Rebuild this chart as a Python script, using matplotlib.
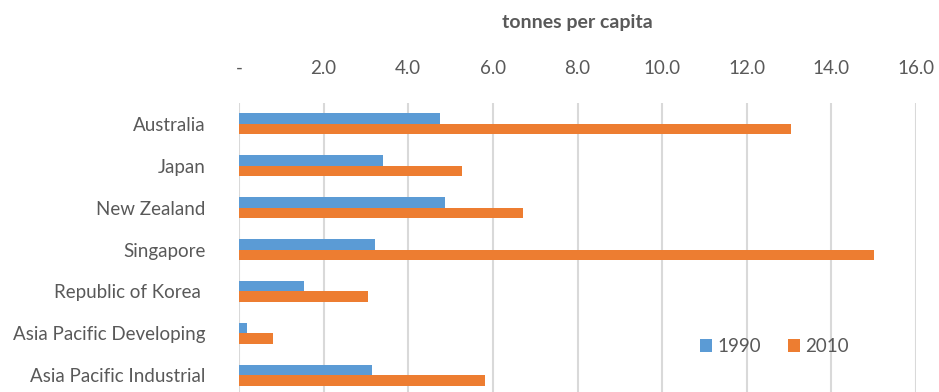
import numpy as np
import matplotlib.pyplot as plt
from matplotlib.ticker import FuncFormatter

# data (tonnes per capita)
countries = ["Australia", "Japan", "New Zealand", "Singapore",
             "Republic of Korea ", "Asia Pacific Developing", "Asia Pacific Industrial"]
v1990 = [4.75, 3.40, 4.88, 3.22, 1.54, 0.19, 3.14]
v2010 = [13.04, 5.26, 6.71, 15.0, 3.05, 0.80, 5.82]
xticks = [0, 2, 4, 6, 8, 10, 12, 14, 16]

blue = "#5b9bd5"
orange = "#ed7d31"
grey_txt = "#595959"

plt.rcParams['font.family'] = ['Lato', 'DejaVu Sans']

fig = plt.figure(figsize=(9.39, 3.92), dpi=100)
ax = fig.add_axes([239/939, -4/392, (916-239)/939, 293/392])

y = np.arange(len(countries))
h = 0.25
ax.barh(y - h/2, v1990, height=h, color=blue, label="1990", zorder=3)
ax.barh(y + h/2, v2010, height=h, color=orange, label="2010", zorder=3)

ax.set_xlim(0, 16)
ax.set_ylim(len(countries) - 0.5, -0.5)
ax.set_yticks(y)
ax.set_yticklabels(countries, fontsize=13.5, color=grey_txt)
ax.set_xticks(xticks)
ax.xaxis.set_major_formatter(FuncFormatter(lambda v, p: "-" if v == 0 else f"{v:.1f}"))
ax.xaxis.tick_top()
ax.tick_params(axis='x', length=0, pad=19, labelsize=13.5, labelcolor=grey_txt)
ax.tick_params(axis='y', length=0, pad=24)
ax.xaxis.set_label_position('top')
ax.set_xlabel("tonnes per capita", fontsize=14, fontweight='bold', color=grey_txt, labelpad=23)

ax.grid(axis='x', color="#d9d9d9", linewidth=1.5, zorder=0)
for s in ax.spines.values():
    s.set_visible(False)

ax.legend(loc='lower right', bbox_to_anchor=(866/939, 20/392), bbox_transform=fig.transFigure,
          ncol=2, frameon=False, fontsize=13.5, handlelength=0.65, handleheight=0.65,
          handletextpad=0.3, columnspacing=1.4, labelcolor=grey_txt)

fig.savefig("out.png", dpi=100)
